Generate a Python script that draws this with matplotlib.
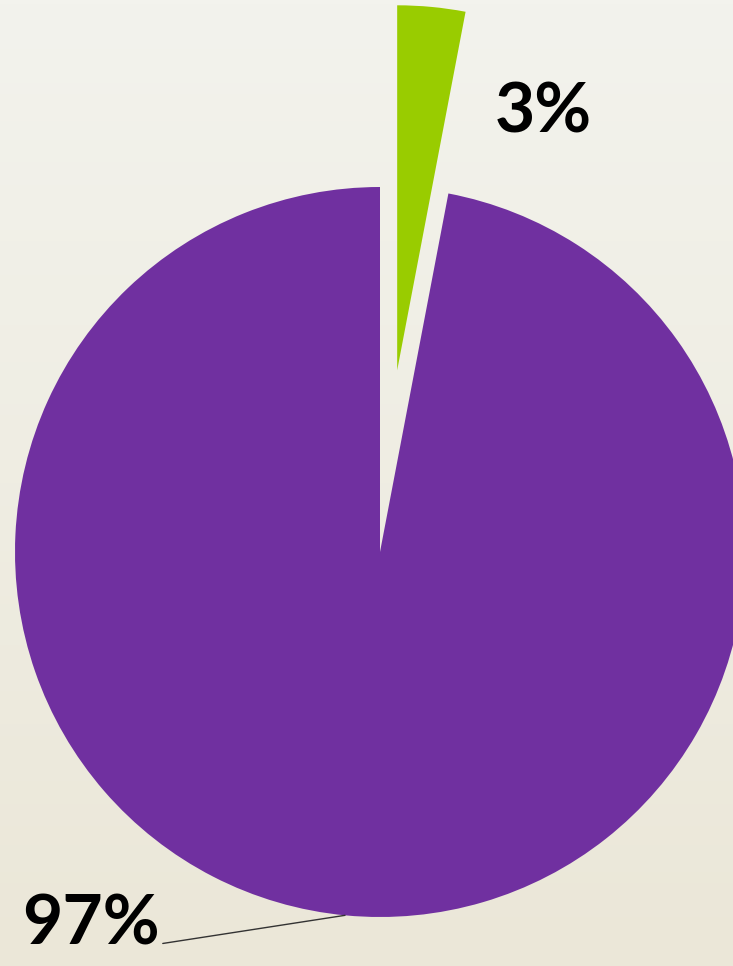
import numpy as np
from matplotlib import pyplot as plt

# data
labels = ["3%", "97%"]
shares = [3, 97]
colors = ["#99cc00", "#7030a0"]

W, H = 733, 966
cx, cy, r = 380, 552, 365  # pie centre / radius in pixels

fig = plt.figure(figsize=(W / 100, H / 100), dpi=100)
ax = fig.add_axes([0, 0, 1, 1])

# background gradient
grad = np.linspace(0, 1, 256).reshape(-1, 1)
bg = np.array([0xf3, 0xf3, 0xed]) / 255 * (1 - grad[..., None]) + np.array([0xeb, 0xe7, 0xd8]) / 255 * grad[..., None]
ax.imshow(bg, extent=[-cx / r, (W - cx) / r, -(H - cy) / r, cy / r],
          aspect="auto", zorder=0)

wedges, _ = ax.pie(shares, colors=colors, startangle=90, counterclock=False,
                   explode=[0.5, 0], radius=1, wedgeprops=dict(linewidth=0))
for w in wedges:
    w.set_zorder(2)

ax.set_xlim(-cx / r, (W - cx) / r)
ax.set_ylim(-(H - cy) / r, cy / r)
ax.set_aspect("auto")
ax.axis("off")

font = dict(family="Lato", weight="bold", size=50, color="black")

# 3% label next to the exploded slice
ax.text((495 - cx) / r, (cy - 113) / r, labels[0], ha="left", va="center", zorder=3, **font)

# 97% label with leader line to the bottom of the big slice
ang = np.deg2rad(264.5)
ax.annotate(labels[1], xy=(np.cos(ang), np.sin(ang)),
            xytext=((160 - cx) / r, (cy - 925) / r),
            ha="right", va="center", zorder=3, **font,
            arrowprops=dict(arrowstyle="-", color="#333333", lw=1,
                            shrinkA=0, shrinkB=0,
                            relpos=(1.0, 0.2)))

fig.savefig("out.png", dpi=100)
